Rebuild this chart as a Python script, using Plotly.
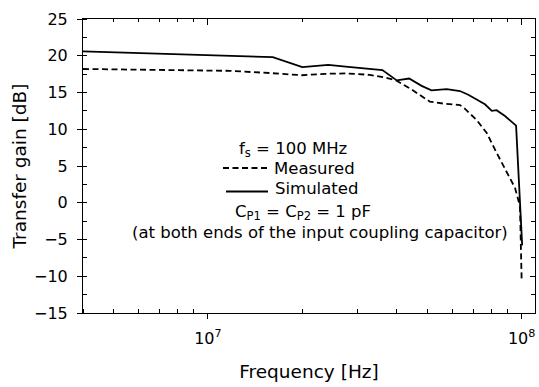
import numpy as np
import plotly.graph_objects as go

# ---- data (frequency in MHz, gain in dB) ----
freq_sim_mhz = [4.0, 16.1, 20.0, 24.2, 28.0, 36.0, 40.0, 43.8, 48.0, 51.6, 57.7,
                63.6, 67.6, 72.8, 76.4, 80.3, 83.2, 88.5, 96.0, 100.4]
gain_sim = [20.6, 19.8, 18.45, 18.75, 18.5, 18.05, 16.65, 16.9, 15.9, 15.3, 15.45,
            15.2, 14.7, 13.9, 13.4, 12.5, 12.6, 11.8, 10.5, -5.8]

freq_meas_mhz = [4.0, 11.7, 15.7, 19.9, 23.9, 27.7, 32.8, 37.1, 40.0, 45.0, 51.0,
                 56.2, 63.6, 65.9, 71.9, 77.4, 83.2, 89.6, 95.3, 98.8, 100.0]
gain_meas = [18.2, 17.95, 17.65, 17.35, 17.55, 17.6, 17.4, 17.0, 16.6, 15.3, 13.75,
             13.5, 13.3, 12.8, 11.25, 9.5, 6.8, 4.1, 2.0, -0.5, -10.5]

x_major = [1e7, 1e8]
x_major_text = ["10<sup>7</sup>", "10<sup>8</sup>"]
x_minor = [m * 10 ** e for e in (6, 7) for m in range(2, 10)]
y_major = [-15, -10, -5, 0, 5, 10, 15, 20, 25]

FONT = "DejaVu Sans"
x_range = [np.log10(4e6), np.log10(1.103e8)]
y_range = [-15, 25]

fig = go.Figure()
fig.add_trace(go.Scatter(x=np.array(freq_meas_mhz) * 1e6, y=gain_meas, mode="lines",
                         line=dict(color="black", width=1.8, dash="6px,3.5px"),
                         showlegend=False))
fig.add_trace(go.Scatter(x=np.array(freq_sim_mhz) * 1e6, y=gain_sim, mode="lines",
                         line=dict(color="black", width=1.8), showlegend=False))
# invisible trace to activate top/right mirror axes
fig.add_trace(go.Scatter(x=[1e7], y=[0], xaxis="x2", yaxis="y2", mode="markers",
                         marker=dict(opacity=0), showlegend=False, hoverinfo="skip"))

axis_common = dict(showline=True, linecolor="black", linewidth=1, showgrid=False,
                   zeroline=False, tickcolor="black", tickwidth=1)

fig.update_layout(
    width=539, height=387,
    margin=dict(l=83, r=4, t=19, b=74),
    paper_bgcolor="white", plot_bgcolor="white",
    font=dict(family=FONT, color="black", size=16),
    xaxis=dict(type="log", range=x_range, tickmode="array", tickvals=x_major,
               ticktext=x_major_text, ticks="outside", ticklen=5,
               tickfont=dict(size=16), ticklabelstandoff=6,
               minor=dict(tickmode="array", tickvals=x_minor, ticks="inside",
                          ticklen=4, tickcolor="black", tickwidth=1),
               title=dict(text="Frequency [Hz]", font=dict(size=18.5), standoff=17),
               **axis_common),
    yaxis=dict(range=y_range, tickmode="array", tickvals=y_major, ticks="outside",
               ticklen=5, tickfont=dict(size=16), ticklabelstandoff=6,
               minor=dict(dtick=2.5, tick0=0, ticks="inside", ticklen=4,
                          tickcolor="black", tickwidth=1),
               title=dict(text="Transfer gain [dB]", font=dict(size=18.5), standoff=2),
               **axis_common),
    xaxis2=dict(type="log", range=x_range, overlaying="x", side="top", anchor="y2",
                tickmode="array", tickvals=x_major, ticks="inside", ticklen=6,
                showticklabels=False,
                minor=dict(tickmode="array", tickvals=x_minor, ticks="inside",
                           ticklen=3, tickcolor="black", tickwidth=1),
                **axis_common),
    yaxis2=dict(range=y_range, overlaying="y", side="right", anchor="x2",
                tickmode="array", tickvals=y_major, ticks="inside", ticklen=5,
                showticklabels=False,
                minor=dict(dtick=2.5, tick0=0, ticks="inside", ticklen=4,
                           tickcolor="black", tickwidth=1),
                **axis_common),
)

# ---- in-plot legend / notes ----
def px2paper(px, py):
    return (px - 83.0) / (535.0 - 83.0), (313.0 - py) / (313.0 - 19.0)

ann_size = 16.5

def note(px, py, text, xanchor="center"):
    x, y = px2paper(px, py)
    fig.add_annotation(x=x, y=y, xref="paper", yref="paper", showarrow=False,
                       xanchor=xanchor, yanchor="middle", text=text,
                       font=dict(size=ann_size))

def sample(px0, px1, py, dash=None):
    x0, y0 = px2paper(px0, py)
    x1, _ = px2paper(px1, py)
    line = dict(color="black", width=1.8)
    if dash:
        line["dash"] = dash
    fig.add_shape(type="line", xref="paper", yref="paper", x0=x0, x1=x1,
                  y0=y0, y1=y0, line=line)

note(293, 149, "f<sub>s</sub> = 100 MHz")
sample(223, 268, 168, dash="6px,3.5px")
note(272, 168, "Measured", xanchor="left")
sample(226, 268, 191.5)
note(273, 188, "Simulated", xanchor="left")
note(303, 212, "C<sub>P1</sub> = C<sub>P2</sub> = 1 pF")
note(320, 232, "(at both ends of the input coupling capacitor)")

fig.write_html("out.html")
